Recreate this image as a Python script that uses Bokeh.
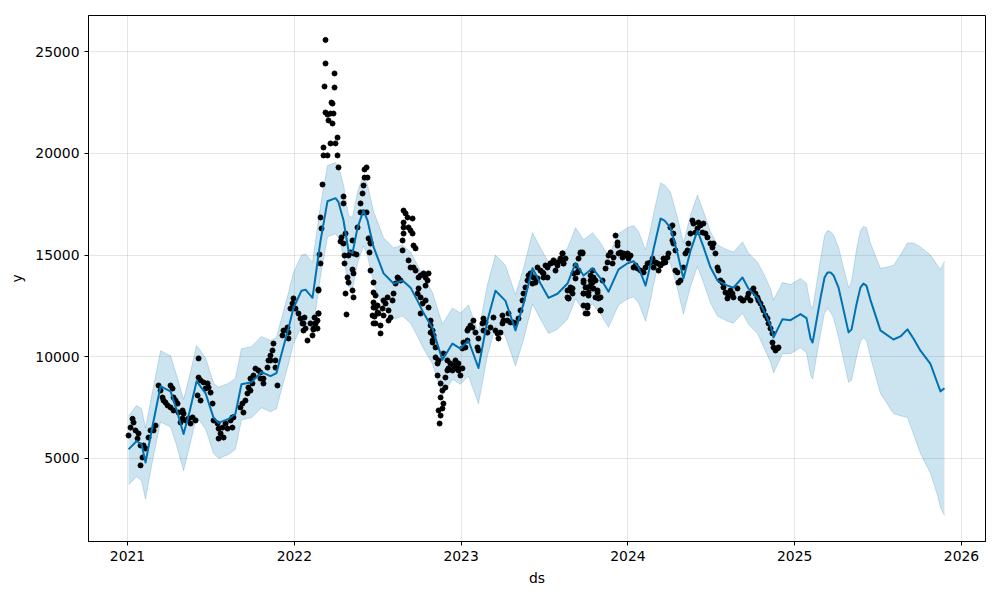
from bokeh.plotting import figure
from bokeh.models import Range1d, FixedTicker, ColumnDataSource
from bokeh.embed import file_html
from bokeh.resources import INLINE

# ---- forecast (decimal year, yhat, lower, upper) ----
fc_ds = [2021.006, 2021.054, 2021.084, 2021.108, 2021.150, 2021.198, 2021.258, 2021.294, 2021.336, 2021.372,
         2021.414, 2021.468, 2021.516, 2021.546, 2021.606, 2021.647, 2021.683, 2021.743, 2021.803, 2021.857,
         2021.893, 2021.917, 2021.965, 2021.995, 2022.043, 2022.067, 2022.109, 2022.157, 2022.199, 2022.247,
         2022.265, 2022.295, 2022.325, 2022.349, 2022.379, 2022.415, 2022.439, 2022.475, 2022.535, 2022.595,
         2022.649, 2022.697, 2022.739, 2022.775, 2022.829, 2022.859, 2022.888, 2022.948, 2022.996, 2023.044,
         2023.104, 2023.158, 2023.206, 2023.266, 2023.326, 2023.374, 2023.428, 2023.476, 2023.524, 2023.578,
         2023.638, 2023.686, 2023.734, 2023.788, 2023.836, 2023.884, 2023.944, 2023.998, 2024.034, 2024.064,
         2024.106, 2024.136, 2024.154, 2024.196, 2024.220, 2024.255, 2024.297, 2024.333, 2024.375, 2024.417,
         2024.453, 2024.495, 2024.537, 2024.597, 2024.633, 2024.687, 2024.723, 2024.777, 2024.813, 2024.855,
         2024.873, 2024.927, 2024.975, 2025.035, 2025.071, 2025.095, 2025.107, 2025.113, 2025.155, 2025.179,
         2025.197, 2025.215, 2025.233, 2025.263, 2025.323, 2025.341, 2025.371, 2025.394, 2025.412, 2025.430,
         2025.454, 2025.514, 2025.592, 2025.634, 2025.676, 2025.712, 2025.754, 2025.814, 2025.856, 2025.874,
         2025.898]
yhat = [5450, 5850, 5700, 4800, 6600, 8550, 8300, 7400, 6200, 7300,
        8800, 8200, 7000, 6750, 6950, 7200, 8650, 8750, 9250, 9050,
        9200, 9950, 11400, 12400, 13250, 13300, 12900, 15700, 17650, 17800,
        17600, 16700, 15200, 15100, 16350, 17200, 16700, 15400, 14100, 13600,
        13750, 13400, 12750, 12150, 11400, 10600, 9850, 10650, 10400, 10800,
        9450, 11800, 13250, 12750, 11300, 12600, 14350, 13600, 12900, 13100,
        13600, 14600, 14000, 14350, 13850, 13200, 14300, 14600, 14700, 14400,
        13500, 14550, 15300, 16800, 16700, 16350, 15100, 13850, 15200, 16200,
        15400, 14400, 13750, 13500, 13400, 13900, 13350, 12900, 12300, 11550,
        10950, 11850, 11800, 12100, 11900, 10900, 10700, 10950, 12900, 13900,
        14150, 14150, 14000, 13400, 11200, 11350, 12600, 13400, 13600, 13500,
        12800, 11300, 10850, 11000, 11350, 10900, 10300, 9650, 8700, 8300,
        8450]
yhat_lower = [3700, 4100, 3900, 3000, 4900, 6800, 6550, 5650, 4400, 5600,
              7050, 6450, 5250, 5000, 5200, 5450, 6900, 7000, 7500, 7300,
              7450, 8200, 9650, 10650, 11500, 11550, 11150, 13950, 15900, 16050,
              15850, 14950, 13450, 13350, 14600, 15450, 14950, 13650, 12350, 11850,
              12000, 11650, 11000, 10400, 9650, 8850, 8100, 8900, 8650, 9050,
              7700, 10050, 11500, 11000, 9550, 10850, 12600, 11850, 11150, 11350,
              11850, 12850, 12250, 12600, 12100, 11450, 12550, 12850, 12950, 12650,
              11750, 12800, 13550, 15050, 14950, 14600, 13350, 12100, 13450, 14450,
              13650, 12650, 12000, 11750, 11650, 12150, 11600, 11150, 10500, 9750,
              9200, 10150, 10150, 10450, 10200, 9100, 8900, 9150, 11150, 12150,
              12380, 12200, 11900, 10950, 8750, 8850, 10000, 10750, 10950, 10800,
              10000, 8200, 7210, 7100, 7020, 6200, 5250, 4270, 3200, 2590,
              2200]
yhat_upper = [7100, 7600, 7450, 6500, 8300, 10300, 10050, 9100, 7900, 9050,
              10550, 9950, 8700, 8500, 8700, 8950, 10400, 10500, 11000, 10800,
              10950, 11700, 13150, 14150, 15000, 15050, 14650, 17450, 19400, 19550,
              19350, 18450, 16950, 16850, 18100, 18950, 18450, 17150, 15850, 15350,
              15500, 15150, 14500, 13900, 13150, 12350, 11600, 12400, 12150, 12550,
              11200, 13550, 15000, 14500, 13050, 14350, 16100, 15350, 14650, 14850,
              15350, 16350, 15750, 16100, 15600, 14950, 16050, 16350, 16450, 16150,
              15250, 16300, 17050, 18550, 18450, 18100, 16850, 15600, 16950, 17950,
              17150, 16150, 15500, 15250, 15150, 15650, 15100, 14650, 14100, 13350,
              12800, 13650, 13550, 13850, 13600, 12500, 12400, 12650, 14800, 15950,
              16210, 16150, 16000, 15370, 13400, 13700, 15300, 16200, 16400, 16350,
              15600, 14340, 14490, 15000, 15600, 15600, 15400, 15000, 14500, 14300,
              14700]

# ---- observed points (decimal year, y) ----
obs_ds = [
    2021.030, 2021.036, 2021.018, 2021.006, 2021.048, 2021.066, 2021.060, 2021.078, 2021.096, 2021.108,
    2021.090, 2021.078, 2021.126, 2021.138, 2021.156, 2021.168, 2021.186, 2021.198, 2021.210, 2021.216,
    2021.228, 2021.240, 2021.258, 2021.270, 2021.276, 2021.288, 2021.300, 2021.258, 2021.276, 2021.306,
    2021.330, 2021.336, 2021.330, 2021.348, 2021.318, 2021.366, 2021.390, 2021.378, 2021.408, 2021.426,
    2021.426, 2021.438, 2021.456, 2021.480, 2021.486, 2021.468, 2021.498, 2021.420, 2021.438, 2021.510,
    2021.516, 2021.540, 2021.546, 2021.570, 2021.588, 2021.600, 2021.558, 2021.546, 2021.576, 2021.618,
    2021.635, 2021.629,
    2021.629, 2021.677, 2021.695, 2021.689, 2021.707, 2021.719, 2021.725, 2021.737, 2021.749, 2021.737,
    2021.755, 2021.767, 2021.785, 2021.797, 2021.815, 2021.815, 2021.797, 2021.839, 2021.845, 2021.857,
    2021.869, 2021.875, 2021.857, 2021.887, 2021.899, 2021.887, 2021.929, 2021.935, 2021.959, 2021.965,
    2021.965, 2021.977, 2021.989, 2021.995, 2022.007, 2022.025, 2022.037, 2022.049, 2022.055, 2022.079,
    2022.109, 2022.115, 2022.127, 2022.145, 2022.139, 2022.145,
    2022.187, 2022.187, 2022.241, 2022.181, 2022.241, 2022.223, 2022.229, 2022.187, 2022.199, 2022.217,
    2022.235, 2022.205, 2022.229, 2022.259, 2022.247, 2022.217, 2022.175, 2022.175, 2022.199, 2022.259,
    2022.265, 2022.169, 2022.295, 2022.295, 2022.157, 2022.163, 2022.283, 2022.277, 2022.307, 2022.295,
    2022.151, 2022.157, 2022.145, 2022.145, 2022.121, 2022.127, 2022.097, 2022.115, 2022.139, 2022.061,
    2022.055, 2022.067, 2022.301, 2022.325, 2022.355, 2022.373, 2022.349, 2022.337, 2022.301, 2022.319,
    2022.349, 2022.355, 2022.325, 2022.307, 2022.349, 2022.355, 2022.313, 2022.379, 2022.397, 2022.409,
    2022.415, 2022.421, 2022.433, 2022.421, 2022.439, 2022.415, 2022.397, 2022.433, 2022.445, 2022.457,
    2022.451, 2022.475, 2022.475, 2022.487, 2022.481, 2022.475,
    2022.457, 2022.457, 2022.475, 2022.487, 2022.499, 2022.499, 2022.475, 2022.469, 2022.487, 2022.517,
    2022.517, 2022.505, 2022.529, 2022.535, 2022.547, 2022.535, 2022.559, 2022.565, 2022.577, 2022.565,
    2022.589, 2022.595, 2022.607, 2022.619, 2022.625, 2022.637, 2022.649, 2022.649, 2022.655, 2022.655,
    2022.655, 2022.667, 2022.655, 2022.679, 2022.685, 2022.697, 2022.709, 2022.709, 2022.715, 2022.727,
    2022.685, 2022.697, 2022.715, 2022.727, 2022.745, 2022.757, 2022.775, 2022.787, 2022.799, 2022.805,
    2022.787, 2022.745, 2022.739, 2022.757, 2022.769, 2022.757, 2022.787, 2022.805, 2022.817, 2022.829,
    2022.835, 2022.829, 2022.847, 2022.847, 2022.865, 2022.918, 2022.918, 2022.859, 2022.877, 2022.888,
    2022.877, 2022.894, 2022.888, 2022.865, 2022.877, 2022.871,
    2022.817, 2022.817, 2022.829, 2022.859, 2022.906, 2022.906, 2022.894, 2022.936, 2022.924, 2022.948,
    2022.954, 2022.966, 2022.966, 2022.978, 2022.984, 2022.996, 2022.984, 2023.008, 2023.008, 2023.014,
    2023.026, 2023.038, 2023.038, 2023.044, 2023.056, 2023.068, 2023.074, 2023.086, 2023.098, 2023.104,
    2023.104, 2023.128, 2023.134, 2023.134, 2023.146, 2023.158, 2023.176, 2023.194, 2023.206, 2023.218,
    2023.224, 2023.236, 2023.248, 2023.248, 2023.254, 2023.278, 2023.284, 2023.296, 2023.314, 2023.326,
    2023.344, 2023.356, 2023.368, 2023.374, 2023.386, 2023.398, 2023.404, 2023.416, 2023.428, 2023.434,
    2023.446, 2023.458,
    2023.458, 2023.476, 2023.494, 2023.518, 2023.506, 2023.536, 2023.554, 2023.578, 2023.596, 2023.608,
    2023.614, 2023.566, 2023.638, 2023.644, 2023.656, 2023.668, 2023.686, 2023.704, 2023.716, 2023.728,
    2023.734, 2023.734, 2023.746, 2023.758, 2023.758, 2023.764, 2023.776, 2023.788, 2023.794, 2023.806,
    2023.818, 2023.836, 2023.836, 2023.848,
    2023.488, 2023.494, 2023.518, 2023.536, 2023.554, 2023.578, 2023.596, 2023.608, 2023.614, 2023.626,
    2023.638, 2023.644, 2023.656, 2023.668, 2023.674, 2023.686, 2023.698, 2023.704, 2023.716, 2023.728,
    2023.734, 2023.734, 2023.734, 2023.758, 2023.746, 2023.758, 2023.764, 2023.776, 2023.776, 2023.788,
    2023.788, 2023.794, 2023.806, 2023.818, 2023.824, 2023.836, 2023.866, 2023.878, 2023.884, 2023.896,
    2023.908, 2023.914, 2023.926, 2023.938, 2023.938, 2023.944, 2023.956, 2023.968, 2023.974, 2023.986,
    2023.998, 2024.004, 2024.016, 2024.034, 2024.046, 2024.058, 2024.076, 2024.094, 2024.106, 2024.118,
    2024.136, 2024.148, 2024.154, 2024.166, 2024.178, 2024.184, 2024.196, 2024.208, 2024.213, 2024.225,
    2024.237, 2024.243, 2024.255, 2024.267, 2024.267, 2024.273, 2024.273, 2024.285, 2024.285, 2024.297,
    2024.303, 2024.315, 2024.333, 2024.345, 2024.357, 2024.363, 2024.375, 2024.387, 2024.393, 2024.405,
    2024.417, 2024.423, 2024.435, 2024.447, 2024.453, 2024.465, 2024.477, 2024.495, 2024.507, 2024.513,
    2024.525, 2024.537, 2024.543, 2024.555, 2024.567, 2024.573, 2024.585, 2024.597, 2024.603, 2024.615,
    2024.627, 2024.633, 2024.657, 2024.675, 2024.687, 2024.693, 2024.717, 2024.723, 2024.735, 2024.747,
    2024.753, 2024.765, 2024.777, 2024.783, 2024.795, 2024.807, 2024.813, 2024.825, 2024.837, 2024.843,
    2024.855, 2024.867, 2024.867, 2024.873, 2024.885, 2024.897, 2024.903]
obs_y = [
    6950, 6770, 6520, 6130, 6380, 6230, 5980, 5640, 5640, 5490,
    5050, 4660, 6030, 6380, 6380, 6620, 8590, 8340, 8000, 7850,
    7750, 7610, 8590, 8440, 8000, 7850, 7700, 7510, 7360, 7260,
    7360, 7210, 6970, 6870, 6770, 6970, 7020, 6720, 6870, 9920,
    8980, 8840, 8740, 8690, 8490, 8440, 8240, 8100, 7850, 7700,
    6870, 6720, 6470, 6520, 6720, 6470, 6230, 5980, 6030, 6870,
    7020, 6520,
    7020, 7510, 7260, 7700, 7850, 8200, 8490, 8340, 8690, 8930,
    9080, 9420, 9330, 9230, 8930, 8690, 8930, 9470, 9820, 10060,
    10310, 10650, 9820, 9820, 8590, 9470, 11050, 11290, 11440, 11190,
    10900, 12370, 12620, 12870, 12370, 12130, 11880, 11640, 11290, 10800,
    11050, 11390, 11640, 12130, 11780, 13260,
    25580, 24420, 23930, 23290, 23240, 22500, 22450, 22010, 21910, 21960,
    21960, 21620, 21470, 20780, 20490, 20490, 20290, 19900, 19900, 19900,
    19310, 18470, 17880, 17540, 16850, 16310, 15870, 15670, 16060, 15570,
    15030, 14590, 13310, 12130, 11930, 11640, 11640, 11340, 11390, 11930,
    11640, 11390, 14980, 14980, 15080, 15030, 15720, 15130, 14590, 13900,
    14290, 14100, 13650, 13110, 13260, 12920, 12080, 16360, 17540, 18030,
    18420, 18810, 19310, 19210, 18810, 17100, 17100, 17100, 15820, 15570,
    15130, 13650, 12670, 12420, 11980, 11640,
    15620, 14240, 13160, 13010, 12520, 12180, 12420, 12030, 11640, 11540,
    11150, 12130, 12370, 12030, 12620, 12770, 12920, 12280, 11930, 11780,
    12770, 13110, 13600, 13900, 13850, 13750, 15230, 15720, 16060, 16360,
    17190, 17050, 16600, 16850, 16360, 16210, 16800, 16060, 15470, 15330,
    14740, 14390, 14390, 14240, 13900, 14000, 14100, 13900, 13750, 14100,
    13500, 13360, 13110, 12920, 12620, 12130, 12770, 12420, 11540, 11290,
    11050, 10800, 10460, 9970, 9820, 9820, 9330, 9080, 8690, 8340,
    8000, 7700, 7460, 7360, 7110, 6720,
    11780, 11190, 10700, 9670, 8490, 8980, 10160, 9670, 9430, 9330,
    9570, 9820, 9430, 9470, 9330, 9080, 9670, 9430, 10410, 10700,
    10460, 10800, 11290, 11390, 11540, 11440, 11780, 11190, 10460, 10900,
    10310, 11640, 11880, 11290, 11690, 11190, 11440, 11930, 11290, 11150,
    10900, 11190, 11640, 12030, 11780, 11780, 12130, 11690, 11690, 11640,
    11880, 12280, 12770, 13110, 13410, 13750, 14000, 14100, 13600, 13900,
    13650, 13850,
    14390, 14240, 14100, 13900, 14490, 14590, 14740, 14640, 14830, 15080,
    14590, 14240, 13260, 12870, 13410, 13110, 13850, 14240, 15130, 15080,
    13750, 13110, 13410, 12520, 12130, 13010, 13750, 13360, 13900, 12920,
    13260, 12280, 12920, 13750,
    14150, 13900, 14390, 14590, 14640, 14490, 14740, 15080, 14590, 14830,
    12920, 12870, 13260, 13360, 14100, 14490, 14150, 14830, 15080, 15130,
    13650, 13110, 12520, 12420, 12130, 13410, 13160, 14000, 13500, 14240,
    13650, 13360, 13750, 13160, 12870, 12280, 14340, 14640, 14980, 15130,
    14590, 14880, 15960, 15620, 15470, 15080, 15130, 14880, 15080, 14980,
    15080, 14830, 14980, 14390, 14490, 14340, 14240, 14150, 14390, 14590,
    14640, 14830, 14390, 14640, 14590, 14240, 14490, 14590, 14830, 14640,
    14880, 15080, 16360, 16460, 15720, 16060, 15570, 15230, 14240, 14150,
    13650, 13750, 14390, 15080, 15230, 15570, 16060, 16700, 16550, 16110,
    16310, 16600, 16460, 16110, 16550, 16060, 15870, 15570, 15370, 15570,
    15080, 14390, 14240, 13750, 13650, 13410, 13160, 12870, 13010, 13260,
    13110, 12920, 13360, 12870, 12770, 12770, 12920, 13110, 12770, 13260,
    13360, 13110, 12920, 12770, 12620, 12420, 12280, 12030, 11880, 11640,
    11390, 11150, 10700, 10460, 10310, 10410, 10460]

x_ticks = [2021, 2022, 2023, 2024, 2025, 2026]
y_ticks = [5000, 10000, 15000, 20000, 25000]

FONT = "DejaVu Sans"
BLUE = "#0072B2"

p = figure(width=1000, height=600, output_backend="svg", toolbar_location=None,
           x_range=Range1d(2020.766, 2026.144), y_range=Range1d(919, 26780),
           min_border_left=88, min_border_right=15, min_border_top=15, min_border_bottom=59,
           background_fill_color="white", border_fill_color="white")

fc = ColumnDataSource(dict(ds=fc_ds, yhat=yhat, lo=yhat_lower, hi=yhat_upper))
obs = ColumnDataSource(dict(ds=obs_ds, y=obs_y))

p.varea(x="ds", y1="lo", y2="hi", source=fc, fill_color=BLUE, fill_alpha=0.2)
p.line(x="ds", y="lo", source=fc, line_color=BLUE, line_alpha=0.2, line_width=1)
p.line(x="ds", y="hi", source=fc, line_color=BLUE, line_alpha=0.2, line_width=1)
p.scatter(x="ds", y="y", source=obs, size=5, fill_color="black", line_color="black")
p.line(x="ds", y="yhat", source=fc, line_color=BLUE, line_width=2, line_join="round")

p.xaxis.ticker = FixedTicker(ticks=x_ticks)
p.yaxis.ticker = FixedTicker(ticks=y_ticks)
p.xaxis.axis_label = "ds"
p.yaxis.axis_label = "y"
for ax in (p.xaxis, p.yaxis):
    ax.axis_label_text_font = FONT
    ax.axis_label_text_font_size = "13.9px"
    ax.axis_label_text_font_style = "normal"
    ax.axis_label_text_color = "black"
    ax.major_label_text_font = FONT
    ax.major_label_text_font_size = "13.9px"
    ax.major_label_text_color = "black"
    ax.minor_tick_line_color = None
    ax.major_tick_in = 0
    ax.major_tick_out = 4
    ax.major_tick_line_color = "black"
    ax.axis_line_color = "black"
p.xaxis.axis_label_standoff = 6
p.yaxis.axis_label_standoff = 7
p.grid.grid_line_color = "gray"
p.grid.grid_line_alpha = 0.2
p.grid.grid_line_width = 1
p.outline_line_color = "black"
p.outline_line_alpha = 1
p.outline_line_width = 1

open("out.html", "w").write(file_html(p, INLINE))
